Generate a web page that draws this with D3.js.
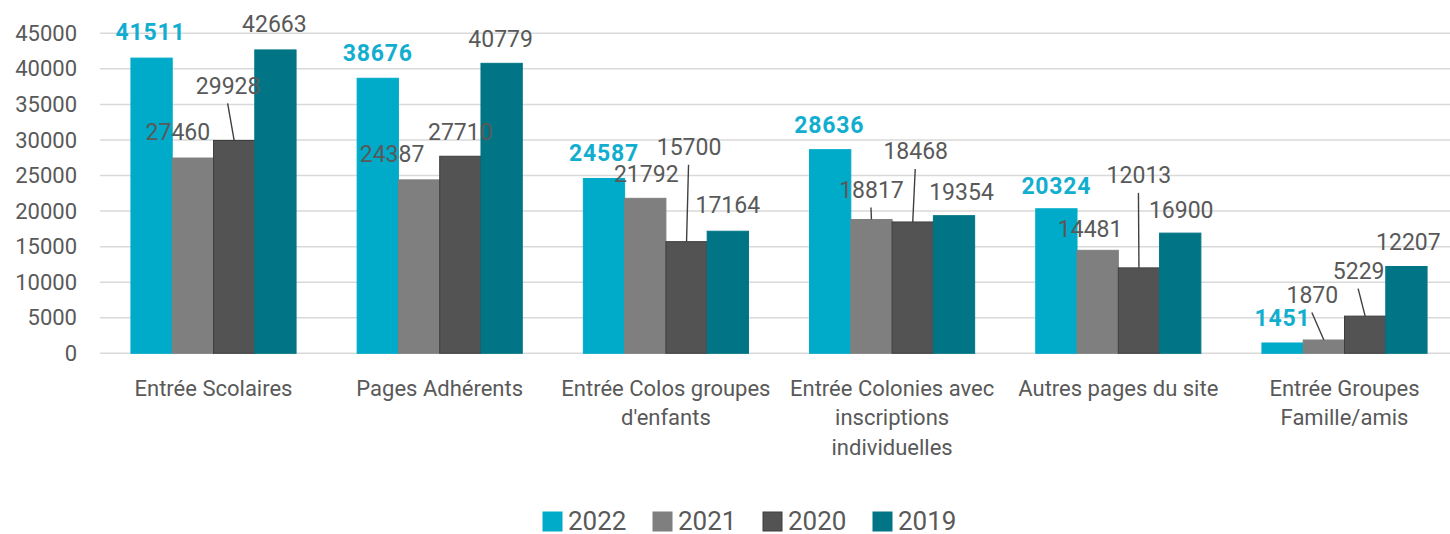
<!DOCTYPE html>
<html>
<head>
<meta charset="utf-8">
<script src="https://cdn.jsdelivr.net/npm/d3@7"></script>
<style>
  html, body { margin: 0; padding: 0; background: #fff; }
  svg { display: block; }
</style>
</head>
<body>
<svg id="chart"></svg>
<script>
  // chart values
  const categories = [
    "Entrée Scolaires",
    "Pages Adhérents",
    "Entrée Colos groupes d'enfants",
    "Entrée Colonies avec inscriptions individuelles",
    "Autres pages du site",
    "Entrée Groupes Famille/amis"
  ];
  const categoryLines = [
    ["Entrée Scolaires"],
    ["Pages Adhérents"],
    ["Entrée Colos groupes", "d'enfants"],
    ["Entrée Colonies avec", "inscriptions", "individuelles"],
    ["Autres pages du site"],
    ["Entrée Groupes", "Famille/amis"]
  ];
  const years = ["2022", "2021", "2020", "2019"];
  const values2022 = [41511, 38676, 24587, 28636, 20324, 1451];
  const values2021 = [27460, 24387, 21792, 18817, 14481, 1870];
  const values2020 = [29928, 27710, 15700, 18468, 12013, 5229];
  const values2019 = [42663, 40779, 17164, 19354, 16900, 12207];
  const yTicks = [0, 5000, 10000, 15000, 20000, 25000, 30000, 35000, 40000, 45000];

  // label nudges (dx, dy of label centre from bar top centre), per category, per year
  const labelNudge = [
    [[-1, -26], [-15, -26], [-6, -55], [-1, -26]],
    [[0, -26], [-27, -26], [0, -25], [-1, -25]],
    [[0, -26], [1, -25], [2.5, -95], [0, -27]],
    [[-1, -25], [0, -30], [3, -71], [7.5, -24]],
    [[0, -23], [-7.5, -21.5], [0, -93], [1, -23]],
    [[0, -25], [-11.5, -45.5], [-6.5, -45.5], [2, -25]]
  ];

  const seriesValues = {
    "2022": values2022,
    "2021": values2021,
    "2020": values2020,
    "2019": values2019
  };

  const colors = {
    "2022": "#00abc9",
    "2021": "#7f7f7f",
    "2020": "#535353",
    "2019": "#017585"
  };
  const strokes = {
    "2022": "#00abc9",
    "2021": "#7f7f7f",
    "2020": "#3e3e3e",
    "2019": "#017585"
  };
  const TEXT = "#595959";
  const CYAN_TEXT = "#12aed0";
  const FONT = "Roboto, 'Noto Sans', sans-serif";

  const width = 1450;
  const height = 534;

  const svg = d3.select("#chart")
    .attr("width", width)
    .attr("height", height)
    .attr("viewBox", `0 0 ${width} ${height}`);

  const x = d3.scaleBand()
    .domain(categories)
    .range([100.4, 1457.6])
    .paddingInner(0.27)
    .paddingOuter(0.135);

  const xs = d3.scaleBand()
    .domain(years)
    .range([0, x.bandwidth()]);

  const y = d3.scaleLinear()
    .domain([0, 45000])
    .range([353.3, 33.3]);

  // gridlines
  svg.append("g")
    .selectAll("line")
    .data(yTicks)
    .join("line")
    .attr("x1", 100).attr("x2", width)
    .attr("y1", d => y(d)).attr("y2", d => y(d))
    .attr("stroke", "#d9d9d9")
    .attr("stroke-width", 1.5);

  // y axis
  const yAxis = svg.append("g")
    .attr("transform", "translate(100,0)")
    .call(d3.axisLeft(y).tickValues(yTicks).tickSize(0).tickPadding(23).tickFormat(d3.format("d")));
  yAxis.select(".domain").remove();
  yAxis.selectAll("text")
    .attr("font-family", FONT)
    .attr("font-size", 22)
    .attr("fill", TEXT);

  // bars
  const groups = svg.append("g")
    .selectAll("g")
    .data(categories)
    .join("g")
    .attr("transform", d => `translate(${x(d)},0)`);

  groups.selectAll("rect")
    .data((d, i) => years.map(yr => ({ yr, v: seriesValues[yr][i] })))
    .join("rect")
    .attr("x", d => xs(d.yr))
    .attr("width", xs.bandwidth())
    .attr("y", d => y(d.v))
    .attr("height", d => y(0) - y(d.v))
    .attr("fill", d => colors[d.yr])
    .attr("stroke", d => strokes[d.yr])
    .attr("stroke-width", 1);

  // data labels + leader lines
  const labels = svg.append("g");
  categories.forEach((cat, i) => {
    years.forEach((yr, j) => {
      const v = seriesValues[yr][i];
      const bx = x(cat) + xs(yr) + xs.bandwidth() / 2;
      const by = y(v);
      const [dx, dy] = labelNudge[i][j];
      const lx = bx + dx;
      const ly = by + dy;

      if (dy < -28) {
        labels.append("line")
          .attr("x1", lx - 0.5).attr("y1", ly + 18)
          .attr("x2", bx).attr("y2", by)
          .attr("stroke", "#404040")
          .attr("stroke-width", 1.4);
      }

      labels.append("text")
        .attr("x", lx)
        .attr("y", ly)
        .attr("dy", "0.36em")
        .attr("text-anchor", "middle")
        .attr("font-family", FONT)
        .attr("font-size", 23)
        .attr("font-weight", yr === "2022" ? 700 : 400)
        .attr("letter-spacing", yr === "2022" ? "0.8px" : null)
        .attr("fill", yr === "2022" ? CYAN_TEXT : TEXT)
        .text(v);
    });
  });

  // category labels
  categories.forEach((cat, i) => {
    const cx = x(cat) + x.bandwidth() / 2;
    const t = svg.append("text")
      .attr("text-anchor", "middle")
      .attr("font-family", FONT)
      .attr("font-size", 22)
      .attr("fill", TEXT);
    categoryLines[i].forEach((line, k) => {
      t.append("tspan")
        .attr("x", cx)
        .attr("y", 388 + k * 29.5)
        .attr("dy", "0.36em")
        .text(line);
    });
  });

  // legend
  const legend = svg.append("g");
  years.forEach((yr, k) => {
    const lx = 543 + k * 110;
    legend.append("rect")
      .attr("x", lx)
      .attr("y", 512)
      .attr("width", 19)
      .attr("height", 19)
      .attr("fill", colors[yr])
      .attr("stroke", strokes[yr])
      .attr("stroke-width", 1);
    legend.append("text")
      .attr("x", lx + 25)
      .attr("y", 521)
      .attr("dy", "0.36em")
      .attr("font-family", FONT)
      .attr("font-size", 26)
      .attr("fill", TEXT)
      .text(yr);
  });
</script>
</body>
</html>
